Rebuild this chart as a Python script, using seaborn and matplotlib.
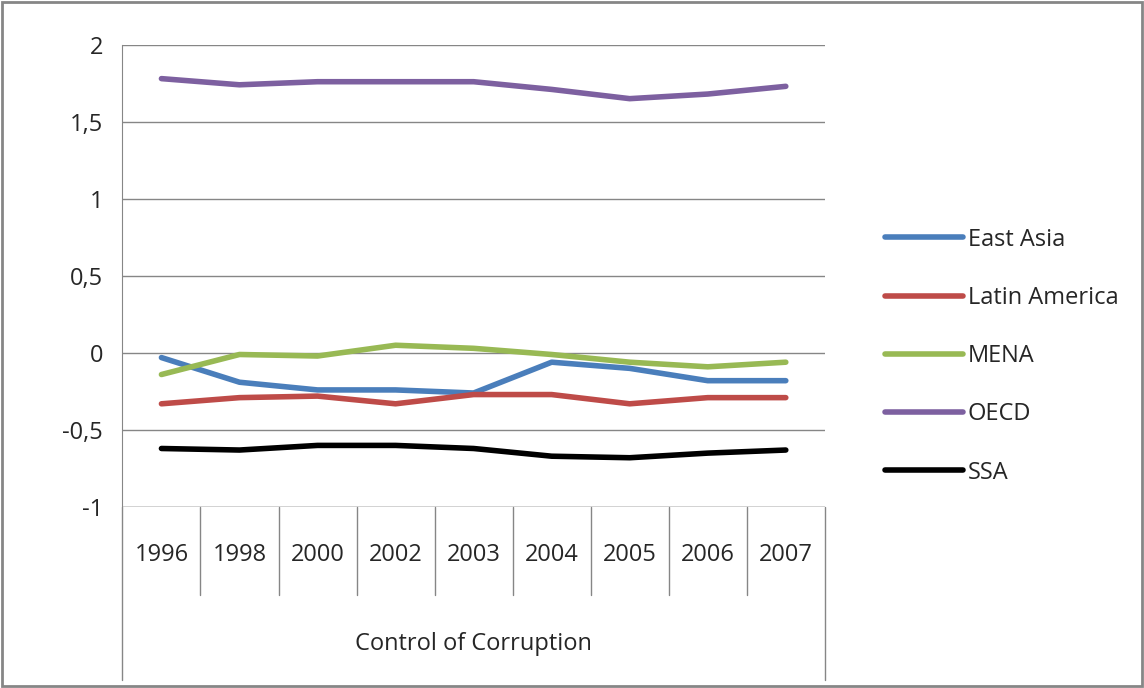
import matplotlib
matplotlib.use("Agg")
import matplotlib.pyplot as plt
import seaborn as sns
import pandas as pd

years = ["1996", "1998", "2000", "2002", "2003", "2004", "2005", "2006", "2007"]
east_asia = [-0.03, -0.19, -0.24, -0.24, -0.26, -0.06, -0.10, -0.18, -0.18]
latin_america = [-0.33, -0.29, -0.28, -0.33, -0.27, -0.27, -0.33, -0.29, -0.29]
mena = [-0.14, -0.01, -0.02, 0.05, 0.03, -0.01, -0.06, -0.09, -0.06]
oecd = [1.78, 1.74, 1.76, 1.76, 1.76, 1.71, 1.65, 1.68, 1.73]
ssa = [-0.62, -0.63, -0.60, -0.60, -0.62, -0.67, -0.68, -0.65, -0.63]
series = {"East Asia": east_asia, "Latin America": latin_america, "MENA": mena,
          "OECD": oecd, "SSA": ssa}
colors = ["#4a7ebb", "#be4b48", "#98b954", "#7d60a0", "#000000"]

rows = []
for name, vals in series.items():
    for i, v in enumerate(vals):
        rows.append({"x": i, "value": v, "series": name})
df = pd.DataFrame(rows)

sns.set_style("white")
plt.rcParams['font.family'] = ['Open Sans', 'DejaVu Sans']
FS = 17

fig = plt.figure(figsize=(11.44, 6.88), dpi=100)
ax = fig.add_axes([0.107, 0.263, 0.614, 0.672])
sns.lineplot(data=df, x="x", y="value", hue="series", palette=colors, lw=4, ax=ax)
ax.set_xlim(-0.5, 8.5)
ax.set_ylim(-1, 2)
ax.set_yticks([-1, -0.5, 0, 0.5, 1, 1.5, 2])
ax.set_yticklabels(["-1", "-0,5", "0", "0,5", "1", "1,5", "2"], fontsize=FS)
ax.set_xticks([])
ax.set_xlabel("")
ax.set_ylabel("")
ax.tick_params(axis="y", pad=14, length=0)
ax.grid(axis="y", color="#868686", lw=1)
for s in ["top", "right", "bottom"]:
    ax.spines[s].set_visible(False)
ax.spines["left"].set_color("#868686")
ax.axhline(-1, color="#868686", lw=1)

# category axis boxes
y1 = -88 / 462
y2 = -173 / 462
for i in range(1, 9):
    ax.plot([i / 9, i / 9], [0, y1], transform=ax.transAxes, color="#868686", lw=1, clip_on=False)
ax.plot([1, 1], [0, y2], transform=ax.transAxes, color="#868686", lw=1, clip_on=False)
ax.plot([0, 0], [0, y2], transform=ax.transAxes, color="#868686", lw=1, clip_on=False)
for i, yr in enumerate(years):
    ax.text((i + 0.5) / 9, -48 / 462, yr, transform=ax.transAxes, ha="center", va="center", fontsize=FS)
ax.text(0.5, -137 / 462, "Control of Corruption", transform=ax.transAxes, ha="center", va="center", fontsize=FS)

ax.legend_.remove()
handles, labels = ax.get_legend_handles_labels()
fig.legend(handles, labels, loc="upper left", bbox_to_anchor=(0.755, 0.7), frameon=False,
           fontsize=FS, handlelength=3.3, handletextpad=0.2, labelspacing=1.45)

fig.patches.append(plt.Rectangle((0.002, 0.003), 0.996, 0.994, transform=fig.transFigure,
                                 fill=False, edgecolor="#868686", lw=2))
fig.savefig("out.png", dpi=100)
